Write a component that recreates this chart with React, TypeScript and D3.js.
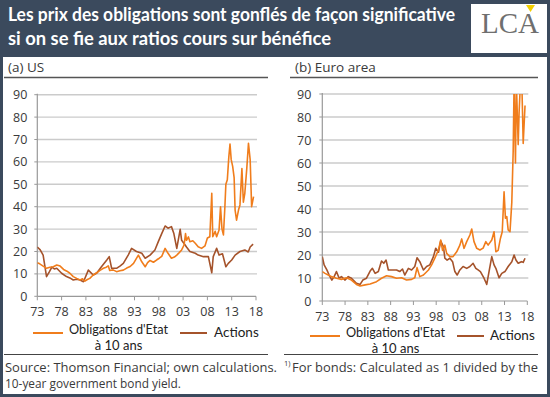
import * as d3 from 'd3';

// ---- data ----
const yearTicks = [1973, 1978, 1983, 1988, 1993, 1998, 2003, 2008, 2013, 2018];
const yearLabels = ['73', '78', '83', '88', '93', '98', '03', '08', '13', '18'];
const valueTicks = [0, 10, 20, 30, 40, 50, 60, 70, 80, 90];

type Pt = [number, number];

const usBonds: Pt[] = [
    [1973.0, 15], [1973.5, 14.5], [1974.2, 13.5], [1974.9, 12.5], [1975.6, 13], [1976.3, 13.2],
    [1977.0, 14], [1977.7, 13.5], [1978.4, 12], [1979.1, 11.2], [1979.7, 10.3], [1980.4, 8.8],
    [1981.1, 8.0], [1981.8, 7.3], [1982.3, 7.8], [1982.8, 6.8], [1983.3, 7.5], [1983.8, 8.0],
    [1984.5, 9.5], [1985.2, 10.5], [1985.9, 11.6], [1986.6, 12.5], [1987.2, 13.0], [1987.6, 13.6],
    [1987.9, 11.5], [1988.6, 11.8], [1989.3, 11], [1990.0, 11.4], [1990.7, 11.7], [1991.4, 12.6],
    [1992.1, 13.3], [1992.8, 14.7], [1993.4, 16.9], [1993.8, 18.4], [1994.5, 15.4], [1995.2, 13.2],
    [1995.7, 15.0], [1996.2, 16], [1996.9, 15.2], [1997.6, 16.3], [1998.1, 17.0], [1998.6, 17.8],
    [1999.3, 21.4], [1999.9, 19.2], [2000.6, 17], [2001.2, 17.5], [2001.7, 18.4], [2002.2, 19.5],
    [2002.7, 20.7], [2003.2, 22.9], [2003.5, 28], [2003.7, 25], [2004.1, 26.5], [2004.4, 24.4],
    [2005.0, 24.8], [2005.5, 23.7], [2006.1, 22.1], [2006.8, 21.4], [2007.5, 22.5], [2008.0, 26],
    [2008.5, 26.6], [2008.9, 46], [2009.1, 26.6], [2009.6, 29], [2009.9, 26.6], [2010.4, 29.6],
    [2010.7, 40], [2011.0, 30], [2011.3, 27.4], [2011.6, 40], [2011.8, 50], [2012.1, 52],
    [2012.4, 62], [2012.65, 68], [2012.9, 61], [2013.2, 58], [2013.5, 53], [2013.7, 38.5],
    [2014.0, 34], [2014.4, 38.5], [2014.7, 40.8], [2015.1, 57], [2015.4, 42], [2015.7, 46],
    [2016.1, 57], [2016.45, 68.3], [2016.8, 61], [2017.1, 40], [2017.5, 44.5],
];

const usActions: Pt[] = [
    [1973.0, 22], [1973.6, 20.7], [1974.2, 18.4], [1974.9, 8.8], [1975.5, 11], [1976.0, 13],
    [1976.5, 12.2], [1977.0, 12.5], [1978.0, 10.3], [1979.0, 8.8], [1979.7, 8.2], [1980.4, 7.3],
    [1981.1, 7.6], [1981.8, 7.3], [1982.5, 6.5], [1983.5, 11.7], [1984.5, 9.5], [1985.2, 10.3],
    [1986.2, 13.2], [1987.3, 16.2], [1987.8, 17.7], [1988.3, 12.5], [1989.3, 12.5], [1990.0, 13.5],
    [1990.7, 14.7], [1991.7, 18.4], [1992.4, 21.4], [1993.4, 20], [1994.5, 19.2], [1995.2, 17],
    [1996.2, 18.4], [1997.2, 20.7], [1997.9, 24.4], [1998.6, 28], [1999.3, 31.4], [1999.9, 30.4],
    [2000.6, 31.1], [2001.1, 28], [2001.7, 21.4], [2002.4, 29.9], [2002.7, 25], [2003.2, 23.6],
    [2003.7, 22], [2004.4, 20], [2005.5, 19.2], [2006.1, 18.4], [2007.2, 17.7], [2008.2, 17.7],
    [2008.9, 10.5], [2009.2, 17.7], [2009.9, 21.4], [2010.4, 18.4], [2011.1, 19], [2011.8, 13.2],
    [2012.3, 14.7], [2013.0, 16.2], [2013.7, 18.4], [2014.7, 20], [2015.7, 20.7], [2016.4, 19.8],
    [2016.8, 22], [2017.4, 23.3],
];

const euBonds: Pt[] = [
    [1973.0, 12.8], [1973.6, 12], [1974.3, 11.3], [1975.0, 10.6], [1976.1, 9.9], [1977.2, 9.4],
    [1978.3, 10.1], [1979.4, 9.1], [1980.5, 7.2], [1981.3, 6.5], [1982.4, 7], [1983.5, 7.4],
    [1984.9, 8.4], [1986.0, 9.9], [1987.1, 11], [1988.2, 10.6], [1989.3, 9.9], [1990.4, 10.1],
    [1991.5, 9.1], [1992.6, 9.4], [1993.3, 10.1], [1993.8, 14.5], [1994.4, 10.6], [1995.2, 11.3],
    [1996.3, 13.5], [1997.0, 15.7], [1997.7, 18.6], [1998.5, 22.2], [1999.0, 26.5], [1999.4, 22],
    [1999.9, 24.3], [2000.3, 20.7], [2001.0, 19.3], [2001.7, 19.3], [2002.5, 21.4], [2003.2, 24.3],
    [2003.6, 27], [2004.1, 22.9], [2004.7, 25.8], [2005.4, 28.7], [2005.8, 31.3], [2006.3, 25.8],
    [2006.9, 22.9], [2007.6, 22.2], [2008.3, 23], [2008.9, 25.8], [2009.4, 24.3], [2010.2, 26.5],
    [2010.7, 30.1], [2011.1, 21.4], [2011.6, 22], [2012.1, 27.2], [2012.5, 30.1], [2012.9, 47.5],
    [2013.2, 36], [2013.5, 36.7], [2013.8, 30.9], [2014.2, 30.1], [2014.6, 43], [2014.9, 65],
    [2015.1, 95], [2015.4, 60], [2015.6, 95], [2016.0, 68], [2016.2, 82], [2016.5, 95],
    [2016.8, 95], [2017.1, 68.5], [2017.5, 85],
];

const euActions: Pt[] = [
    [1973.0, 19.3], [1973.4, 15.7], [1974.0, 13.5], [1974.5, 11.3], [1975.1, 9.1], [1975.6, 10.6],
    [1976.1, 12.8], [1976.7, 9.9], [1977.2, 10.6], [1978.0, 9.1], [1978.7, 10.6], [1979.4, 9.9],
    [1980.5, 7.7], [1981.3, 7.2], [1981.9, 9.1], [1982.7, 9.9], [1983.5, 13], [1984.0, 14.2],
    [1984.6, 12], [1985.3, 12.8], [1986.0, 17.4], [1986.5, 16.4], [1987.0, 17.8], [1987.5, 13.5],
    [1988.2, 13.5], [1989.3, 13.5], [1990.0, 12.8], [1990.6, 13.9], [1991.1, 11.3], [1991.9, 14.2],
    [1992.6, 13.5], [1993.3, 15], [1993.8, 18.8], [1994.4, 17.1], [1995.2, 13.5], [1995.9, 15],
    [1996.6, 15.7], [1997.4, 19.3], [1997.9, 22.9], [1998.5, 21.2], [1999.0, 26.1], [1999.6, 23.6],
    [1999.9, 18.6], [2000.4, 17.8], [2001.0, 18.6], [2001.6, 17.1], [2002.1, 12.8], [2002.6, 11.3],
    [2003.2, 13.5], [2003.9, 15], [2004.7, 14.2], [2005.4, 15], [2006.1, 16.4], [2006.7, 14.2],
    [2007.2, 13.5], [2007.7, 12.8], [2008.5, 9.9], [2009.1, 7.2], [2009.6, 12.8], [2010.2, 19.3],
    [2010.7, 15.7], [2011.1, 14.2], [2011.8, 10.1], [2012.4, 12], [2013.1, 12.8], [2013.8, 15],
    [2014.6, 17.1], [2015.1, 20], [2015.5, 17.8], [2016.0, 16.4], [2016.7, 17.1], [2017.1, 16.8],
    [2017.5, 18.6],
];

const ORANGE = '#f07d1c';
const BROWN = '#a5532b';
const TEXT = '#3a3a3a';
const SANS = '"Open Sans", "Noto Sans", sans-serif';
const TITLE_FONT = 'Lato, "Open Sans", sans-serif';

interface PanelProps {
    id: string;
    title: string;
    titleX: number;
    ruleX: [number, number];
    left: number;
    right: number;
    top: number;
    bottom: number;
    labelGap: number;
    bonds: Pt[];
    actions: Pt[];
    legendY: number;
    legend: { lineX: number; textX: number; textW: number; actLineX: number; actTextX: number };
}

function Panel(p: PanelProps) {
    const x = d3.scaleLinear().domain([1973, 2018]).range([p.left, p.right]);
    const y = d3.scaleLinear().domain([0, 90]).range([p.bottom, p.top]);
    const line = d3
        .line<Pt>()
        .x((d) => x(d[0]))
        .y((d) => y(d[1]));
    const lg = p.legend;

    return (
        <g>
            <text x={p.titleX} y={72} fontSize={13.5} fill={TEXT} fontFamily={SANS}>
                {p.title}
            </text>
            <line x1={p.ruleX[0]} x2={p.ruleX[1]} y1={77.5} y2={77.5} stroke="#555" strokeWidth={1.3} />

            <clipPath id={`clip-${p.id}`}>
                <rect x={p.left} y={p.top} width={p.right - p.left + 2} height={p.bottom - p.top} />
            </clipPath>

            {/* grid */}
            {valueTicks.map((v) => (
                <g key={v}>
                    {v > 0 && (
                        <line x1={p.left} x2={p.right + 1} y1={y(v)} y2={y(v)} stroke="#cbcbcb" strokeWidth={1.4} />
                    )}
                    <line x1={p.left - 3} x2={p.left} y1={y(v)} y2={y(v)} stroke="#999" strokeWidth={1} />
                    <text
                        x={p.left - p.labelGap}
                        y={y(v)}
                        dy="0.36em"
                        textAnchor="end"
                        fontSize={12.5}
                        fill={TEXT}
                        fontFamily={SANS}
                    >
                        {v}
                    </text>
                </g>
            ))}

            {/* axes */}
            <line x1={p.left} x2={p.left} y1={p.top - 1} y2={p.bottom} stroke="#999" strokeWidth={1.2} />
            <line x1={p.left} x2={p.right} y1={p.bottom} y2={p.bottom} stroke="#999" strokeWidth={1.2} />
            {yearTicks.map((t, i) => (
                <g key={t}>
                    <line x1={x(t)} x2={x(t)} y1={p.bottom} y2={p.bottom + 4} stroke="#999" strokeWidth={1} />
                    <text
                        x={x(t)}
                        y={p.bottom + 19.5}
                        textAnchor="middle"
                        fontSize={12.5}
                        fill={TEXT}
                        fontFamily={SANS}
                    >
                        {yearLabels[i]}
                    </text>
                </g>
            ))}

            {/* series */}
            <g clipPath={`url(#clip-${p.id})`}>
                <path d={line(p.actions) || ''} fill="none" stroke={BROWN} strokeWidth={1.6} strokeLinejoin="round" />
                <path d={line(p.bonds) || ''} fill="none" stroke={ORANGE} strokeWidth={1.6} strokeLinejoin="round" />
            </g>

            {/* legend */}
            <line x1={lg.lineX} x2={lg.lineX + 30} y1={p.legendY} y2={p.legendY} stroke={ORANGE} strokeWidth={2} />
            <text
                x={lg.textX}
                y={p.legendY + 1}
                fontSize={13}
                fill="#222"
                fontFamily={TITLE_FONT}
                textLength={lg.textW}
                lengthAdjust="spacingAndGlyphs"
            >
                Obligations d'Etat
            </text>
            <text
                x={lg.textX + lg.textW / 2}
                y={p.legendY + 16.5}
                textAnchor="middle"
                fontSize={13}
                fill="#222"
                fontFamily={TITLE_FONT}
            >
                à 10 ans
            </text>
            <line
                x1={lg.actLineX}
                x2={lg.actLineX + 27}
                y1={p.legendY}
                y2={p.legendY}
                stroke={BROWN}
                strokeWidth={2}
            />
            <text x={lg.actTextX} y={p.legendY + 4} fontSize={13.5} fill="#222" fontFamily={TITLE_FONT}>
                Actions
            </text>
        </g>
    );
}

export default function App() {
    return (
        <svg
            width={550}
            height={397}
            viewBox="0 0 550 397"
            style={{ position: 'absolute', left: 0, top: 0, display: 'block' }}
        >
            <rect x={0} y={0} width={550} height={397} fill="#3b4a5d" />

            {/* title */}
            <text
                x={8}
                y={21}
                fill="#fff"
                fontSize={18.5}
                fontWeight="bold"
                fontFamily={TITLE_FONT}
                textLength={447}
                lengthAdjust="spacingAndGlyphs"
            >
                Les prix des obligations sont gonflés de façon significative
            </text>
            <text
                x={8}
                y={45}
                fill="#fff"
                fontSize={18.5}
                fontWeight="bold"
                fontFamily={TITLE_FONT}
                textLength={323}
                lengthAdjust="spacingAndGlyphs"
            >
                si on se fie aux ratios cours sur bénéfice
            </text>

            {/* logo */}
            <rect x={471} y={4} width={76} height={49} fill="#fff" />
            <text
                x={510}
                y={33}
                textAnchor="middle"
                fontSize={30}
                fill="#6f6f6f"
                fontFamily='"Liberation Serif", "DejaVu Serif", serif'
                textLength={58}
                lengthAdjust="spacingAndGlyphs"
            >
                LCA
            </text>
            <path d="M526,5 L535,5 L530.5,12 Z" fill="#f2cf00" />

            {/* white panel */}
            <rect x={3} y={57} width={544} height={337} fill="#fff" />

            <Panel
                id="us"
                title="(a) US"
                titleX={8}
                ruleX={[4, 268]}
                left={37.3}
                right={256}
                top={94.7}
                bottom={296.3}
                labelGap={10}
                bonds={usBonds}
                actions={usActions}
                legendY={333}
                legend={{ lineX: 33, textX: 69, textW: 99, actLineX: 180, actTextX: 214 }}
            />
            <Panel
                id="eu"
                title="(b) Euro area"
                titleX={295}
                ruleX={[290, 538]}
                left={322.3}
                right={527.3}
                top={94}
                bottom={301}
                labelGap={11}
                bonds={euBonds}
                actions={euActions}
                legendY={336}
                legend={{ lineX: 310, textX: 346, textW: 99, actLineX: 457, actTextX: 490 }}
            />

            {/* footer */}
            <line x1={4} x2={268} y1={354.5} y2={354.5} stroke="#444" strokeWidth={1} />
            <line x1={284} x2={538} y1={354.5} y2={354.5} stroke="#444" strokeWidth={1} />
            <text
                x={5}
                y={372}
                fontSize={12}
                fill={TEXT}
                fontFamily={SANS}
                textLength={272}
                lengthAdjust="spacingAndGlyphs"
            >
                Source: Thomson Financial; own calculations.
            </text>
            <text x={284} y={366} fontSize={7.5} fill={TEXT} fontFamily={SANS}>
                1)
            </text>
            <text
                x={292}
                y={372}
                fontSize={12}
                fill={TEXT}
                fontFamily={SANS}
                textLength={246}
                lengthAdjust="spacingAndGlyphs"
            >
                For bonds: Calculated as 1 divided by the
            </text>
            <text
                x={5}
                y={388}
                fontSize={12}
                fill={TEXT}
                fontFamily={SANS}
                textLength={176}
                lengthAdjust="spacingAndGlyphs"
            >
                10-year government bond yield.
            </text>
        </svg>
    );
}
